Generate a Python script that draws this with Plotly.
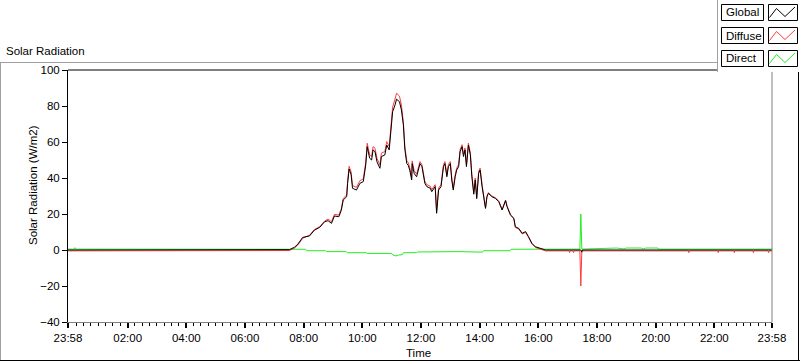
import plotly.graph_objects as go

PREV_DAY = "2024-01-01"
DAY = "2024-01-02"

# ---- data (times "HH:MM"; a leading "-" means previous day) ----
DAY_TIMES = ["07:21","07:31","07:41","07:48","07:58","08:12","08:22","08:33","08:43","08:50",
             "08:57","09:03","09:12","09:17","09:21","09:28","09:30","09:33","09:37","09:40",
             "09:48","09:55","10:02","10:07","10:10","10:15","10:19","10:22","10:26","10:30",
             "10:36","10:39","10:46","10:50","10:55","10:58","11:02","11:07","11:10","11:16",
             "11:20","11:24","11:27","11:31","11:34","11:37","11:41","11:42","11:46","11:51",
             "11:55","11:58","12:02","12:05","12:08","12:12","12:19","12:22","12:29","12:32",
             "12:36","12:41","12:46","12:49","12:53","12:56","13:00","13:03","13:06","13:10",
             "13:13","13:17","13:20","13:24","13:27","13:30","13:33","13:37","13:41","13:44",
             "13:48","13:51","13:54","13:58","14:01","14:05","14:08","14:12","14:15","14:18",
             "14:25","14:32","14:39","14:46","14:53","14:56","15:03","15:10","15:13","15:20",
             "15:27","15:34","15:40","15:47","15:54","16:04","16:15"]

GLOBAL_DAY = [0, 0.2, 1.5, 3.2, 7, 7.8, 11, 12.6, 15.7, 16.3,
              14.8, 18.9, 18.5, 22, 27.8, 29.6, 37, 45, 42, 34.3,
              33.3, 37, 38, 47.2, 57.4, 51, 50, 55.6, 54.6, 49,
              45.4, 51.9, 52.8, 58.3, 55.6, 65.7, 76.8, 80.6, 83.8, 82.4,
              77.8, 69.4, 56, 48, 47, 44.4, 38.9, 48, 42.6, 40.7,
              44.4, 48, 46.3, 42.6, 37, 35.2, 34.3, 32.4, 35.2, 20.4,
              33.3, 35.2, 46.3, 48, 40.7, 46.3, 48, 38.9, 33.3, 40.7,
              44.4, 46.3, 54.6, 57.4, 51.9, 55.6, 46.3, 58.3, 52.8, 41,
              31, 38.9, 28.5, 42.6, 44.4, 35.2, 30.6, 23.1, 29.6, 31.5,
              29.6, 28.7, 26.9, 22.2, 27.4, 24.1, 19.4, 17.6, 12.9, 12,
              9.3, 10.2, 7.4, 3.7, 1.8, 0.9, 0]

DIFFUSE_DAY = [-0.5, -0.3, 1.0, 2.7, 6.5, 8.2, 11.4, 13.0, 16.1, 17.2,
               15.7, 19.8, 19.4, 22.9, 28.7, 30.5, 38.5, 46.5, 43.5, 35.8,
               34.8, 38.5, 39.5, 48.7, 59.3, 52.9, 51.9, 57.5, 56.5, 50.9,
               47.3, 53.8, 54.7, 60.2, 57.5, 67.6, 79.4, 83.9, 87.1, 85.5,
               80.6, 71.0, 57.5, 49.5, 48.5, 45.9, 40.4, 49.5, 44.1, 42.2,
               45.5, 49.1, 47.4, 43.7, 38.1, 36.3, 35.4, 33.5, 36.3, 21.5,
               34.4, 36.3, 47.4, 49.1, 41.8, 47.4, 49.1, 40.0, 34.4, 41.8,
               45.5, 47.4, 55.7, 58.5, 53.0, 56.7, 47.4, 59.4, 53.9, 42.1,
               32.1, 40.0, 29.6, 43.7, 45.5, 36.3, 31.0, 23.5, 30.0, 31.9,
               30.0, 29.1, 27.3, 22.6, 27.8, 24.5, 19.8, 17.2, 12.5, 11.6,
               8.9, 9.8, 7.0, 3.3, 1.4, 0.5, -0.5]

GLOBAL_NIGHT_T = ["17:27", "17:29", "17:30", "23:58"]
GLOBAL_NIGHT_V = [0, -1.2, 0, 0]

DIFFUSE_NIGHT_T = ["17:03","17:04","17:05","17:11","17:12","17:13",
                   "17:25","17:26","17:27","17:28","17:29",
                   "21:07","21:08","21:09","22:07","22:08","22:09",
                   "22:40","22:41","22:42","23:19","23:20","23:21",
                   "23:50","23:51","23:52","23:58"]
DIFFUSE_NIGHT_V = [-0.5, -1.5, -0.5, -0.5, -1.5, -0.5,
                   -0.5, -10, -20, -10, -0.5,
                   -0.5, -1.5, -0.5, -0.5, -1.5, -0.5,
                   -0.5, -1.5, -0.5, -0.5, -1.5, -0.5,
                   -0.5, -1.5, -0.5, -0.5]

DIRECT_T = ["-23:58","00:11","00:12","00:13","08:04","08:06","08:45","08:47","09:27","09:29",
            "10:08","10:10","11:00","11:02","11:08","11:14","11:22","11:24","11:51","11:53",
            "13:20","14:06","14:08","15:02","15:04","16:05","16:15","17:25","17:26","17:27",
            "17:28","17:29","18:40","18:55","19:00","19:30","19:35","19:40","20:05","20:06","23:58"]
DIRECT_V = [0.5, 0.5, 1.3, 0.5, 0.4, -0.4, -0.4, -0.9, -0.9, -1.5,
            -1.5, -1.9, -1.9, -2.6, -3.3, -2.8, -2.6, -1.5, -1.5, -1.1,
            -0.9, -1.2, -0.4, -0.4, 0.4, 0.4, 0.5, 0.5, 10, 20,
            10, 0.5, 1.1, 0.6, 1.1, 1.1, 0.6, 1.1, 1.1, 0.5, 0.5]

X_TICK_TIMES = ["-23:58","02:00","04:00","06:00","08:00","10:00","12:00",
                "14:00","16:00","18:00","20:00","22:00","23:58"]
X_TICK_LABELS = ["23:58","02:00","04:00","06:00","08:00","10:00","12:00",
                 "14:00","16:00","18:00","20:00","22:00","23:58"]

SERIES_NAMES = ["Global", "Diffuse", "Direct"]
SERIES_COLORS = ["#000000", "#ff3c3c", "#22ee22"]

assert len(DAY_TIMES) == len(GLOBAL_DAY) == len(DIFFUSE_DAY)
assert len(DIFFUSE_NIGHT_T) == len(DIFFUSE_NIGHT_V)
assert len(DIRECT_T) == len(DIRECT_V)


def ts(s):
    if s.startswith("-"):
        return f"{PREV_DAY} {s[1:]}"
    return f"{DAY} {s}"


global_t = [ts(t) for t in ["-23:58"] + DAY_TIMES + GLOBAL_NIGHT_T]
global_v = [0] + GLOBAL_DAY + GLOBAL_NIGHT_V
diffuse_t = [ts(t) for t in ["-23:58"] + DAY_TIMES + DIFFUSE_NIGHT_T]
diffuse_v = [-0.5] + DIFFUSE_DAY + DIFFUSE_NIGHT_V
direct_t = [ts(t) for t in DIRECT_T]
direct_v = DIRECT_V

FONT = "Liberation Sans"

fig = go.Figure()
fig.add_trace(go.Scatter(x=direct_t, y=direct_v, mode="lines", name="Direct",
                         line=dict(color=SERIES_COLORS[2], width=1)))
fig.add_trace(go.Scatter(x=diffuse_t, y=diffuse_v, mode="lines", name="Diffuse",
                         line=dict(color=SERIES_COLORS[1], width=1)))
fig.add_trace(go.Scatter(x=global_t, y=global_v, mode="lines", name="Global",
                         line=dict(color=SERIES_COLORS[0], width=1)))

W, H = 800, 361
L, R, T, B = 68, 772, 70, 322


def px(x):
    return (x - L) / (R - L)


def py(y):
    return (B - y) / (B - T)


shapes = []
# plot frame (top black, right gray)
shapes.append(dict(type="line", xref="paper", yref="paper", x0=0, x1=1, y0=1, y1=1,
                   line=dict(color="black", width=1)))
shapes.append(dict(type="line", xref="paper", yref="paper", x0=1, x1=1, y0=0, y1=1,
                   line=dict(color="#808080", width=1)))
# outer panel
shapes.append(dict(type="line", xref="paper", yref="paper", x0=px(0), x1=px(717),
                   y0=py(62.5), y1=py(62.5), line=dict(color="#a0a0a0", width=1)))
shapes.append(dict(type="line", xref="paper", yref="paper", x0=px(0.5), x1=px(0.5),
                   y0=py(62), y1=py(361), line=dict(color="#a0a0a0", width=1)))
shapes.append(dict(type="line", xref="paper", yref="paper", x0=px(0), x1=px(800),
                   y0=py(360.5), y1=py(360.5), line=dict(color="black", width=1)))
shapes.append(dict(type="line", xref="paper", yref="paper", x0=px(798.5), x1=px(798.5),
                   y0=py(72), y1=py(361), line=dict(color="black", width=1)))
# legend panel
shapes.append(dict(type="rect", xref="paper", yref="paper", x0=px(717), x1=px(800),
                   y0=py(0), y1=py(72), fillcolor="white", line=dict(width=0)))
shapes.append(dict(type="line", xref="paper", yref="paper", x0=px(717.5), x1=px(717.5),
                   y0=py(0), y1=py(72), line=dict(color="#a0a0a0", width=1)))

annotations = []
row_tops = [4.5, 27.5, 50.5]
for name, color, top in zip(SERIES_NAMES, SERIES_COLORS, row_tops):
    bot = top + 16
    shapes.append(dict(type="rect", xref="paper", yref="paper", x0=px(721.5), x1=px(763.5),
                       y0=py(bot), y1=py(top), fillcolor="white",
                       line=dict(color="black", width=1)))
    shapes.append(dict(type="rect", xref="paper", yref="paper", x0=px(768.5), x1=px(797.5),
                       y0=py(bot), y1=py(top), fillcolor="white",
                       line=dict(color="black", width=1)))
    pts = [(769.5, top + 13), (776.5, top + 4), (785, top + 12), (795, top + 2.5)]
    path = "M " + " L ".join(f"{px(a):.5f},{py(b):.5f}" for a, b in pts)
    shapes.append(dict(type="path", xref="paper", yref="paper", path=path,
                       line=dict(color=color, width=1)))
    annotations.append(dict(text=name, xref="paper", yref="paper", x=px(723.5),
                            y=py(top + 8), xanchor="left", yanchor="middle", showarrow=False,
                            font=dict(family=FONT, size=11.5, color="black")))

annotations.append(dict(text="Solar Radiation", xref="paper", yref="paper", x=px(3.5),
                        y=py(51), xanchor="left", yanchor="middle", showarrow=False,
                        font=dict(family=FONT, size=11.5, color="black")))
annotations.append(dict(text="Solar Radiation (W/m2)", xref="paper", yref="paper",
                        x=px(33), y=py(185), xanchor="center", yanchor="middle",
                        textangle=-90, showarrow=False,
                        font=dict(family=FONT, size=11.5, color="black")))
annotations.append(dict(text="Time", xref="paper", yref="paper", x=px(418), y=py(353),
                        xanchor="center", yanchor="middle", showarrow=False,
                        font=dict(family=FONT, size=11.5, color="black")))

fig.update_layout(
    width=W, height=H,
    margin=dict(l=L, r=W - R, t=T, b=H - B, pad=0),
    paper_bgcolor="white", plot_bgcolor="white",
    showlegend=False,
    shapes=shapes, annotations=annotations,
    xaxis=dict(type="date", range=[ts(X_TICK_TIMES[0]), ts(X_TICK_TIMES[-1])],
               tickmode="array", tickvals=[ts(t) for t in X_TICK_TIMES],
               ticktext=X_TICK_LABELS, ticks="outside", ticklen=5, tickwidth=2,
               tickcolor="black", showline=True, linecolor="#808080", linewidth=1,
               showgrid=False, zeroline=False,
               tickfont=dict(family=FONT, size=11.5, color="black"),
               minor=dict(tickmode="linear", tick0=ts("00:00"), dtick=15 * 60 * 1000,
                          ticks="outside", ticklen=3, tickwidth=1, tickcolor="black",
                          showgrid=False)),
    yaxis=dict(range=[-40, 100], tickmode="linear", tick0=-40, dtick=20,
               ticks="outside", ticklen=5, tickwidth=1, tickcolor="black",
               showline=True, linecolor="black", linewidth=1,
               showgrid=False, zeroline=False,
               tickfont=dict(family=FONT, size=11.5, color="black")),
)

fig.write_html("out.html", config={"displayModeBar": False},
               post_script="document.body.style.margin='0';document.body.style.overflow='hidden';")
